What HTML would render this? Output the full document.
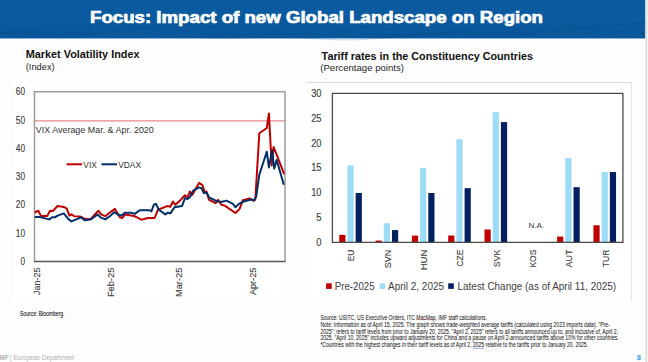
<!DOCTYPE html>
<html><head><meta charset="utf-8"><style>
html,body{margin:0;padding:0;width:648px;height:362px;overflow:hidden;background:#fff;}
body{position:relative;font-family:"Liberation Sans", sans-serif;}
</style></head><body>
<svg width="648" height="362" viewBox="0 0 648 362" style="position:absolute;left:0;top:0" font-family="Liberation Sans, sans-serif">
<rect x="0" y="0" width="648" height="362" fill="#fdfdfd"/>
<rect x="13.8" y="83.3" width="273.1" height="217.1" fill="#ffffff"/>
<rect x="304.8" y="82.6" width="326.5" height="217.8" fill="#ffffff"/>
<defs><linearGradient id="hg" x1="0" y1="0" x2="0" y2="1"><stop offset="0" stop-color="#0a5aa0"/><stop offset="0.6" stop-color="#0a5aa0"/><stop offset="1" stop-color="#09579b"/></linearGradient></defs>
<rect x="0" y="0" width="645.5" height="38" fill="url(#hg)"/>
<rect x="0" y="38" width="645.5" height="1" fill="#8db4dc"/>
<path d="M0,22.0 L8,22.9 L16,23.6 L24,24.3 L32,24.8 L40,25.1 L48,25.2 L56,25.1 L64,24.9 L72,24.6 L80,24.2 L88,23.9 L96,23.7 L104,23.5 L112,23.5 L120,23.7 L128,23.9 L136,24.3 L144,24.6 L152,25.0 L160,25.2 L168,25.3 L176,25.2 L184,25.0 L192,24.5 L200,23.8 L208,23.1 L216,22.2 L224,21.4 L232,20.6 L240,19.9 L248,19.4 L256,19.0 L264,18.9 L272,19.0 L280,19.2 L288,19.5 L296,19.8 L304,20.1 L312,20.4 L320,20.5 L328,20.5 L336,20.3 L344,20.1 L352,19.7 L360,19.4 L368,19.0 L376,18.7 L384,18.6 L392,18.6 L400,18.9 L408,19.3 L416,20.0 L424,20.7 L432,21.6 L440,22.4 L448,23.2 L456,23.9 L464,24.5 L472,24.8 L480,25.0 L488,25.0 L496,24.8 L504,24.5 L512,24.2 L520,23.9 L528,23.6 L536,23.5 L544,23.5 L552,23.6 L560,23.9 L568,24.3 L576,24.7 L584,25.0 L592,25.3 L600,25.5 L608,25.5 L616,25.3 L624,24.8 L632,24.2 L640,23.5 L648,22.7 M0,28.0 L8,28.4 L16,28.7 L24,28.7 L32,28.6 L40,28.3 L48,27.8 L56,27.4 L64,26.9 L72,26.5 L80,26.2 L88,26.1 L96,26.1 L104,26.2 L112,26.4 L120,26.7 L128,26.9 L136,27.1 L144,27.2 L152,27.1 L160,26.8 L168,26.3 L176,25.6 L184,24.9 L192,24.0 L200,23.2 L208,22.4 L216,21.8 L224,21.3 L232,21.0 L240,20.9 L248,21.1 L256,21.4 L264,21.8 L272,22.2 L280,22.7 L288,23.0 L296,23.3 L304,23.5 L312,23.5 L320,23.3 L328,23.1 L336,22.8 L344,22.6 L352,22.4 L360,22.3 L368,22.4 L376,22.7 L384,23.1 L392,23.8 L400,24.5 L408,25.4 L416,26.2 L424,27.0 L432,27.7 L440,28.2 L448,28.5 L456,28.6 L464,28.5 L472,28.2 L480,27.9 L488,27.4 L496,27.0 L504,26.6 L512,26.3 L520,26.2 L528,26.2 L536,26.3 L544,26.6 L552,26.8 L560,27.1 L568,27.3 L576,27.4 L584,27.3 L592,27.1 L600,26.6 L608,26.0 L616,25.3 L624,24.4 L632,23.6 L640,22.8 L648,22.1 M0,31.9 L8,31.7 L16,31.2 L24,30.7 L32,30.1 L40,29.5 L48,29.0 L56,28.6 L64,28.3 L72,28.2 L80,28.2 L88,28.3 L96,28.5 L104,28.7 L112,28.9 L120,28.9 L128,28.8 L136,28.5 L144,28.0 L152,27.4 L160,26.7 L168,25.9 L176,25.2 L184,24.5 L192,23.9 L200,23.5 L208,23.3 L216,23.3 L224,23.5 L232,23.9 L240,24.4 L248,25.0 L256,25.6 L264,26.1 L272,26.5 L280,26.8 L288,26.9 L296,26.9 L304,26.8 L312,26.6 L320,26.4 L328,26.2 L336,26.2 L344,26.3 L352,26.5 L360,27.0 L368,27.6 L376,28.3 L384,29.1 L392,29.9 L400,30.6 L408,31.2 L416,31.6 L424,31.9 L432,31.9 L440,31.7 L448,31.3 L456,30.8 L464,30.3 L472,29.7 L480,29.2 L488,28.8 L496,28.5 L504,28.4 L512,28.4 L520,28.5 L528,28.7 L536,28.9 L544,29.1 L552,29.2 L560,29.1 L568,28.8 L576,28.4 L584,27.8 L592,27.1 L600,26.3 L608,25.5 L616,24.8 L624,24.1 L632,23.7 L640,23.4 L648,23.4 M0,33.2 L8,32.5 L16,31.8 L24,31.2 L32,30.6 L40,30.3 L48,30.0 L56,30.0 L64,30.1 L72,30.2 L80,30.4 L88,30.5 L96,30.6 L104,30.5 L112,30.3 L120,29.9 L128,29.4 L136,28.8 L144,28.1 L152,27.4 L160,26.8 L168,26.3 L176,26.0 L184,25.9 L192,26.0 L200,26.3 L208,26.8 L216,27.5 L224,28.2 L232,28.9 L240,29.5 L248,30.0 L256,30.4 L264,30.6 L272,30.7 L280,30.6 L288,30.5 L296,30.3 L304,30.1 L312,30.1 L320,30.1 L328,30.3 L336,30.7 L344,31.2 L352,31.9 L360,32.6 L368,33.3 L376,33.9 L384,34.4 L392,34.8 L400,34.9 L408,34.8 L416,34.5 L424,34.1 L432,33.5 L440,32.8 L448,32.1 L456,31.5 L464,30.9 L472,30.6 L480,30.3 L488,30.2 L496,30.3 L504,30.4 L512,30.6 L520,30.8 L528,30.9 L536,30.8 L544,30.6 L552,30.2 L560,29.7 L568,29.1 L576,28.4 L584,27.7 L592,27.0 L600,26.5 L608,26.1 L616,25.9 L624,26.0 L632,26.2 L640,26.7 L648,27.2 M0,33.1 L8,32.5 L16,32.0 L24,31.8 L32,31.7 L40,31.7 L48,31.9 L56,32.1 L64,32.3 L72,32.4 L80,32.4 L88,32.3 L96,32.1 L104,31.6 L112,31.1 L120,30.6 L128,30.0 L136,29.5 L144,29.1 L152,28.9 L160,28.9 L168,29.1 L176,29.5 L184,30.1 L192,30.9 L200,31.6 L208,32.4 L216,33.1 L224,33.7 L232,34.2 L240,34.5 L248,34.6 L256,34.5 L264,34.4 L272,34.2 L280,34.0 L288,33.9 L296,33.9 L304,34.0 L312,34.2 L320,34.6 L328,35.2 L336,35.7 L344,36.3 L352,36.9 L360,37.3 L368,37.5 L376,37.5 L384,37.4 L392,37.0 L400,36.4 L408,35.7 L416,34.9 L424,34.2 L432,33.4 L440,32.8 L448,32.4 L456,32.1 L464,32.0 L472,32.0 L480,32.1 L488,32.3 L496,32.5 L504,32.6 L512,32.6 L520,32.5 L528,32.3 L536,31.9 L544,31.3 L552,30.7 L560,30.1 L568,29.6 L576,29.2 L584,28.9 L592,28.8 L600,29.0 L608,29.3 L616,29.8 L624,30.5 L632,31.3 L640,32.0 L648,32.8 M0,33.5 L8,33.4 L16,33.5 L24,33.7 L32,34.0 L40,34.3 L48,34.5 L56,34.6 L64,34.6 L72,34.5 L80,34.2 L88,33.8 L96,33.4 L104,33.0 L112,32.6 L120,32.3 L128,32.2 L136,32.3 L144,32.6 L152,33.1 L160,33.7 L168,34.5 L176,35.3 L184,36.2 L192,36.9 L200,37.6 L208,38.1 L216,38.3 L224,38.5 L232,38.4 L240,38.2 L248,38.0 L256,37.7 L264,37.5 L272,37.3 L280,37.3 L288,37.5 L296,37.7 L304,38.1 L312,38.6 L320,39.0 L328,39.4 L336,39.7 L344,39.9 L352,39.8 L360,39.6 L368,39.1 L376,38.5 L384,37.7 L392,36.9 L400,36.0 L408,35.3 L416,34.6 L424,34.1 L432,33.8 L440,33.7 L448,33.7 L456,33.9 L464,34.1 L472,34.4 L480,34.6 L488,34.7 L496,34.7 L504,34.6 L512,34.3 L520,33.9 L528,33.5 L536,33.0 L544,32.6 L552,32.2 L560,32.1 L568,32.1 L576,32.3 L584,32.7 L592,33.3 L600,34.1 L608,34.9 L616,35.7 L624,36.5 L632,37.2 L640,37.7 L648,38.0 M0,24 L6,37 M22,24 L28,37 M44,24 L50,37 M66,24 L72,37 M88,24 L94,37 M110,24 L116,37 M132,24 L138,37 M154,24 L160,37 M176,24 L182,37 M198,24 L204,37 M220,24 L226,37 M242,24 L248,37 M264,24 L270,37 M286,24 L292,37 M308,24 L314,37 M330,24 L336,37 M352,24 L358,37 M374,24 L380,37 M396,24 L402,37 M418,24 L424,37 M440,24 L446,37 M462,24 L468,37 M484,24 L490,37 M506,24 L512,37 M528,24 L534,37 M550,24 L556,37 M572,24 L578,37 M594,24 L600,37 M616,24 L622,37 M638,24 L644,37" fill="none" stroke="#08467f" stroke-opacity="0.3" stroke-width="0.7"/>
<rect x="645.5" y="0" width="2.5" height="362" fill="#f2f2f2"/><rect x="645.5" y="0" width="1.5" height="362" fill="#dedede"/>
<text x="90.0" y="23.1" font-size="16" font-weight="bold" fill="#fff" text-anchor="start" textLength="453.0" lengthAdjust="spacingAndGlyphs" stroke="#fff" stroke-width="0.7">Focus: Impact of new Global Landscape on Region</text>
<text x="25.7" y="57.7" font-size="10" font-weight="bold" fill="#111" text-anchor="start" textLength="113.8" lengthAdjust="spacingAndGlyphs" >Market Volatility Index</text>
<text x="25.7" y="69.8" font-size="9" font-weight="normal" fill="#262626" text-anchor="start" textLength="29.0" lengthAdjust="spacingAndGlyphs" >(Index)</text>
<path d="M34.5,261.5 L34.5,91.8 L285.0,91.8 L285.0,261.5" fill="none" stroke="#9c9c9c" stroke-width="1.5"/>
<line x1="33.9" y1="261.5" x2="285.6" y2="261.5" stroke="#595959" stroke-width="1.4"/>
<text x="25.0" y="265.0" font-size="10" font-weight="normal" fill="#404040" text-anchor="end" textLength="4.6" lengthAdjust="spacingAndGlyphs" stroke="#404040" stroke-width="0.15">0</text>
<text x="25.0" y="236.7" font-size="10" font-weight="normal" fill="#404040" text-anchor="end" textLength="9.2" lengthAdjust="spacingAndGlyphs" stroke="#404040" stroke-width="0.15">10</text>
<text x="25.0" y="208.4" font-size="10" font-weight="normal" fill="#404040" text-anchor="end" textLength="9.2" lengthAdjust="spacingAndGlyphs" stroke="#404040" stroke-width="0.15">20</text>
<text x="25.0" y="180.2" font-size="10" font-weight="normal" fill="#404040" text-anchor="end" textLength="9.2" lengthAdjust="spacingAndGlyphs" stroke="#404040" stroke-width="0.15">30</text>
<text x="25.0" y="151.9" font-size="10" font-weight="normal" fill="#404040" text-anchor="end" textLength="9.2" lengthAdjust="spacingAndGlyphs" stroke="#404040" stroke-width="0.15">40</text>
<text x="25.0" y="123.6" font-size="10" font-weight="normal" fill="#404040" text-anchor="end" textLength="9.2" lengthAdjust="spacingAndGlyphs" stroke="#404040" stroke-width="0.15">50</text>
<text x="25.0" y="95.3" font-size="10" font-weight="normal" fill="#404040" text-anchor="end" textLength="9.2" lengthAdjust="spacingAndGlyphs" stroke="#404040" stroke-width="0.15">60</text>
<line x1="34.5" y1="120.9" x2="285.0" y2="120.9" stroke="#e36b6b" stroke-width="1"/>
<text x="35.8" y="132.7" font-size="9" font-weight="normal" fill="#333" text-anchor="start" textLength="118.0" lengthAdjust="spacingAndGlyphs" >VIX Average Mar. &amp; Apr. 2020</text>
<line x1="66.5" y1="164.3" x2="82.2" y2="164.3" stroke="#c00000" stroke-width="2"/>
<text x="83.3" y="167.8" font-size="8.6" font-weight="normal" fill="#333" text-anchor="start" textLength="13.5" lengthAdjust="spacingAndGlyphs" >VIX</text>
<line x1="101.4" y1="164.3" x2="117" y2="164.3" stroke="#002f6c" stroke-width="2"/>
<text x="118.3" y="167.8" font-size="8.6" font-weight="normal" fill="#333" text-anchor="start" textLength="22.7" lengthAdjust="spacingAndGlyphs" >VDAX</text>
<text transform="translate(39.6,267.6) rotate(-90)" x="0" y="0" font-size="9.8" fill="#404040" text-anchor="end" textLength="27.3" lengthAdjust="spacingAndGlyphs" stroke="#404040" stroke-width="0.12">Jan-25</text>
<text transform="translate(113.9,267.6) rotate(-90)" x="0" y="0" font-size="9.8" fill="#404040" text-anchor="end" textLength="29.5" lengthAdjust="spacingAndGlyphs" stroke="#404040" stroke-width="0.12">Feb-25</text>
<text transform="translate(181.8,267.6) rotate(-90)" x="0" y="0" font-size="9.8" fill="#404040" text-anchor="end" textLength="29.5" lengthAdjust="spacingAndGlyphs" stroke="#404040" stroke-width="0.12">Mar-25</text>
<text transform="translate(256.3,267.6) rotate(-90)" x="0" y="0" font-size="9.8" fill="#404040" text-anchor="end" textLength="27.5" lengthAdjust="spacingAndGlyphs" stroke="#404040" stroke-width="0.12">Apr-25</text>
<polyline points="34.8,212.5 38.3,210.7 41.0,215.9 47.3,215.9 50.0,210.7 52.8,211.0 57.6,206.0 63.8,207.0 66.6,208.3 69.4,215.6 71.4,214.3 74.2,216.3 80.4,216.6 84.6,218.7 90.8,219.0 98.4,210.7 101.1,214.3 105.3,216.2 109.8,212.5 114.9,208.9 119.9,217.2 122.4,218.0 124.9,214.4 134.0,216.0 136.5,217.2 141.4,219.7 148.0,218.0 154.7,218.0 158.0,209.7 167.1,206.1 170.4,206.8 172.9,201.5 175.4,204.8 180.0,200.6 185.0,195.2 187.5,197.3 189.9,191.5 192.4,194.8 199.0,182.9 202.4,185.2 204.8,192.4 206.5,191.5 209.0,199.8 215.6,203.1 218.1,199.8 221.4,204.8 224.7,205.6 235.5,213.0 239.6,208.9 242.9,200.1 249.5,198.5 253.7,200.6 255.3,199.8 259.3,133.3 266.8,128.0 268.9,113.4 271.7,165.5 273.6,146.9 284.2,174.2" fill="none" stroke="#c00000" stroke-width="2.0" stroke-linejoin="round"/>
<polyline points="34.8,216.9 39.0,216.9 49.3,219.4 52.1,217.3 54.9,217.3 57.6,215.6 63.8,213.4 68.0,218.7 71.4,221.4 81.1,217.3 84.6,220.3 90.8,219.4 97.7,214.5 100.4,217.3 105.3,219.4 109.8,216.2 114.1,212.2 118.2,214.7 121.6,215.5 124.9,212.7 131.5,212.7 134.8,213.9 139.8,210.2 149.7,210.2 151.4,211.4 153.8,204.8 156.0,203.9 158.8,209.7 165.4,214.4 167.9,212.7 170.4,213.4 174.5,207.3 182.0,206.1 185.0,198.1 187.5,199.0 189.9,197.3 193.2,190.7 199.0,187.4 201.5,188.2 204.0,193.2 206.5,192.4 209.0,197.3 217.3,201.5 222.2,201.8 226.4,200.6 233.0,203.9 235.5,207.3 238.8,203.9 243.7,201.5 251.2,199.5 253.7,200.6 256.2,196.5 259.3,174.8 266.8,151.8 268.9,167.4 272.1,150.0 274.2,168.6 276.7,159.9 283.8,184.8" fill="none" stroke="#002f6c" stroke-width="2.0" stroke-linejoin="round"/>
<line x1="305.8" y1="82.6" x2="631.3" y2="82.6" stroke="#d9d9d9" stroke-width="1"/>
<line x1="631.3" y1="82.6" x2="631.3" y2="300" stroke="#e0e0e0" stroke-width="1"/>
<text x="321.6" y="59.9" font-size="10" font-weight="bold" fill="#111" text-anchor="start" textLength="211.4" lengthAdjust="spacingAndGlyphs" >Tariff rates in the Constituency Countries</text>
<text x="320.2" y="71.2" font-size="9" font-weight="normal" fill="#262626" text-anchor="start" textLength="83.8" lengthAdjust="spacingAndGlyphs" >(Percentage points)</text>
<rect x="339.26" y="234.85" width="6.2" height="7.45" fill="#c00000"/>
<rect x="347.46" y="165.32" width="6.2" height="76.98" fill="#9ddcf6"/>
<rect x="355.66" y="192.98" width="6.2" height="49.32" fill="#002060"/>
<rect x="375.57" y="240.56" width="6.2" height="1.74" fill="#c00000"/>
<rect x="383.77" y="223.23" width="6.2" height="19.07" fill="#9ddcf6"/>
<rect x="391.97" y="230.08" width="6.2" height="12.22" fill="#002060"/>
<rect x="411.88" y="235.59" width="6.2" height="6.71" fill="#c00000"/>
<rect x="420.08" y="167.80" width="6.2" height="74.50" fill="#9ddcf6"/>
<rect x="428.28" y="192.98" width="6.2" height="49.32" fill="#002060"/>
<rect x="448.19" y="235.50" width="6.2" height="6.80" fill="#c00000"/>
<rect x="456.39" y="139.24" width="6.2" height="103.06" fill="#9ddcf6"/>
<rect x="464.59" y="188.16" width="6.2" height="54.14" fill="#002060"/>
<rect x="484.51" y="229.49" width="6.2" height="12.81" fill="#c00000"/>
<rect x="492.71" y="112.17" width="6.2" height="130.13" fill="#9ddcf6"/>
<rect x="500.91" y="122.11" width="6.2" height="120.19" fill="#002060"/>
<rect x="557.13" y="236.59" width="6.2" height="5.71" fill="#c00000"/>
<rect x="565.33" y="158.07" width="6.2" height="84.23" fill="#9ddcf6"/>
<rect x="573.53" y="187.17" width="6.2" height="55.13" fill="#002060"/>
<rect x="593.44" y="225.26" width="6.2" height="17.04" fill="#c00000"/>
<rect x="601.64" y="172.02" width="6.2" height="70.28" fill="#9ddcf6"/>
<rect x="609.84" y="172.02" width="6.2" height="70.28" fill="#002060"/>
<text transform="translate(354.4,249.6) rotate(-90)" x="0" y="0" font-size="9.8" fill="#404040" text-anchor="end" textLength="11.6" lengthAdjust="spacingAndGlyphs" stroke="#404040" stroke-width="0.12">EU</text>
<text transform="translate(390.7,249.6) rotate(-90)" x="0" y="0" font-size="9.8" fill="#404040" text-anchor="end" textLength="18.6" lengthAdjust="spacingAndGlyphs" stroke="#404040" stroke-width="0.12">SVN</text>
<text transform="translate(427.0,249.6) rotate(-90)" x="0" y="0" font-size="9.8" fill="#404040" text-anchor="end" textLength="20.7" lengthAdjust="spacingAndGlyphs" stroke="#404040" stroke-width="0.12">HUN</text>
<text transform="translate(463.3,249.6) rotate(-90)" x="0" y="0" font-size="9.8" fill="#404040" text-anchor="end" textLength="17.0" lengthAdjust="spacingAndGlyphs" stroke="#404040" stroke-width="0.12">CZE</text>
<text transform="translate(499.6,249.6) rotate(-90)" x="0" y="0" font-size="9.8" fill="#404040" text-anchor="end" textLength="17.6" lengthAdjust="spacingAndGlyphs" stroke="#404040" stroke-width="0.12">SVK</text>
<text transform="translate(535.9,249.6) rotate(-90)" x="0" y="0" font-size="9.8" fill="#404040" text-anchor="end" textLength="18.0" lengthAdjust="spacingAndGlyphs" stroke="#404040" stroke-width="0.12">KOS</text>
<text transform="translate(572.2,249.6) rotate(-90)" x="0" y="0" font-size="9.8" fill="#404040" text-anchor="end" textLength="18.0" lengthAdjust="spacingAndGlyphs" stroke="#404040" stroke-width="0.12">AUT</text>
<text transform="translate(608.5,249.6) rotate(-90)" x="0" y="0" font-size="9.8" fill="#404040" text-anchor="end" textLength="17.6" lengthAdjust="spacingAndGlyphs" stroke="#404040" stroke-width="0.12">TUR</text>
<text x="528.4" y="227.9" font-size="8" font-weight="normal" fill="#333" text-anchor="start" textLength="15.7" lengthAdjust="spacingAndGlyphs" >N.A.</text>
<path d="M332.4,93.3 L622.9,93.3 L622.9,242.3 L332.4,242.3 Z" fill="none" stroke="#4a4a4a" stroke-width="1.3"/>
<text x="321.5" y="245.9" font-size="10.5" font-weight="normal" fill="#404040" text-anchor="end" textLength="5.2" lengthAdjust="spacingAndGlyphs" stroke="#404040" stroke-width="0.15">0</text>
<text x="321.5" y="221.1" font-size="10.5" font-weight="normal" fill="#404040" text-anchor="end" textLength="5.2" lengthAdjust="spacingAndGlyphs" stroke="#404040" stroke-width="0.15">5</text>
<text x="321.5" y="196.2" font-size="10.5" font-weight="normal" fill="#404040" text-anchor="end" textLength="10.3" lengthAdjust="spacingAndGlyphs" stroke="#404040" stroke-width="0.15">10</text>
<text x="321.5" y="171.4" font-size="10.5" font-weight="normal" fill="#404040" text-anchor="end" textLength="10.3" lengthAdjust="spacingAndGlyphs" stroke="#404040" stroke-width="0.15">15</text>
<text x="321.5" y="146.6" font-size="10.5" font-weight="normal" fill="#404040" text-anchor="end" textLength="10.3" lengthAdjust="spacingAndGlyphs" stroke="#404040" stroke-width="0.15">20</text>
<text x="321.5" y="121.7" font-size="10.5" font-weight="normal" fill="#404040" text-anchor="end" textLength="10.3" lengthAdjust="spacingAndGlyphs" stroke="#404040" stroke-width="0.15">25</text>
<text x="321.5" y="96.9" font-size="10.5" font-weight="normal" fill="#404040" text-anchor="end" textLength="10.3" lengthAdjust="spacingAndGlyphs" stroke="#404040" stroke-width="0.15">30</text>
<rect x="326.1" y="283.3" width="5.6" height="5.6" fill="#c00000"/>
<rect x="379.6" y="283.3" width="5.6" height="5.6" fill="#9ddcf6"/>
<rect x="448.2" y="283.3" width="5.6" height="5.6" fill="#002060"/>
<text x="334.8" y="289.8" font-size="10" font-weight="normal" fill="#404040" text-anchor="start" textLength="39.8" lengthAdjust="spacingAndGlyphs" >Pre-2025</text>
<text x="388.1" y="289.8" font-size="10" font-weight="normal" fill="#404040" text-anchor="start" textLength="55.9" lengthAdjust="spacingAndGlyphs" >April 2, 2025</text>
<text x="457.5" y="289.8" font-size="10" font-weight="normal" fill="#404040" text-anchor="start" textLength="158.7" lengthAdjust="spacingAndGlyphs" >Latest Change (as of April 11, 2025)</text>
<text x="20.0" y="316.2" font-size="6.3" font-weight="normal" fill="#000" text-anchor="start" textLength="44.5" lengthAdjust="spacingAndGlyphs" stroke="#000" stroke-width="0.05">Source: Bloomberg.</text>
<text x="320.4" y="319.9" font-size="6.3" font-weight="normal" fill="#0a0a0a" text-anchor="start" textLength="166.5" lengthAdjust="spacingAndGlyphs" >Source: USITC, US Executive Orders, ITC MacMap, IMF staff calculations.</text>
<text x="320.4" y="326.8" font-size="6.3" font-weight="normal" fill="#0a0a0a" text-anchor="start" textLength="289.3" lengthAdjust="spacingAndGlyphs" >Note: Information as of April 15, 2025. The graph shows trade-weighted average tariffs (calculated using 2023 imports data). &quot;Pre-</text>
<text x="320.4" y="333.6" font-size="6.3" font-weight="normal" fill="#0a0a0a" text-anchor="start" textLength="297.6" lengthAdjust="spacingAndGlyphs" >2025&quot;: refers to tariff levels from prior to January 20, 2025. &quot;April 2, 2025&quot; refers to all tariffs announced up to, and inclusive of, April 2,</text>
<text x="320.4" y="340.4" font-size="6.3" font-weight="normal" fill="#0a0a0a" text-anchor="start" textLength="298.4" lengthAdjust="spacingAndGlyphs" >2025. &quot;April 10, 2025&quot; includes upward adjustments for China and a pause on April 2-announced tariffs above 10% for other countries.</text>
<text x="320.4" y="347.3" font-size="6.3" font-weight="normal" fill="#0a0a0a" text-anchor="start" textLength="267.6" lengthAdjust="spacingAndGlyphs" >*Countries with the highest changes in their tariff levels as of April 2, 2025 relative to the tariffs prior to January 20, 2025.</text>
<rect x="473" y="347.9" width="11" height="0.9" fill="#7d9ad8" opacity="0.8"/>
<path d="M416,320 L418,319.3 L420,320 L422,319.3 L424,320 L426,319.3 L428,320 L430,319.3 L432,320 L434,319.3 L435.6,320" fill="none" stroke="#d04040" stroke-width="0.6" opacity="0.7"/>
<text x="-2.2" y="360.2" font-size="7.4" fill="#b0b0b0" textLength="76.2" lengthAdjust="spacingAndGlyphs"><tspan font-weight="bold">IMF</tspan> | European Department</text>
<text x="636.8" y="360.2" font-size="7.2" font-weight="bold" fill="#3fa9e6" text-anchor="start" stroke="#3fa9e6" stroke-width="0.3">3</text>
</svg>
</body></html>
